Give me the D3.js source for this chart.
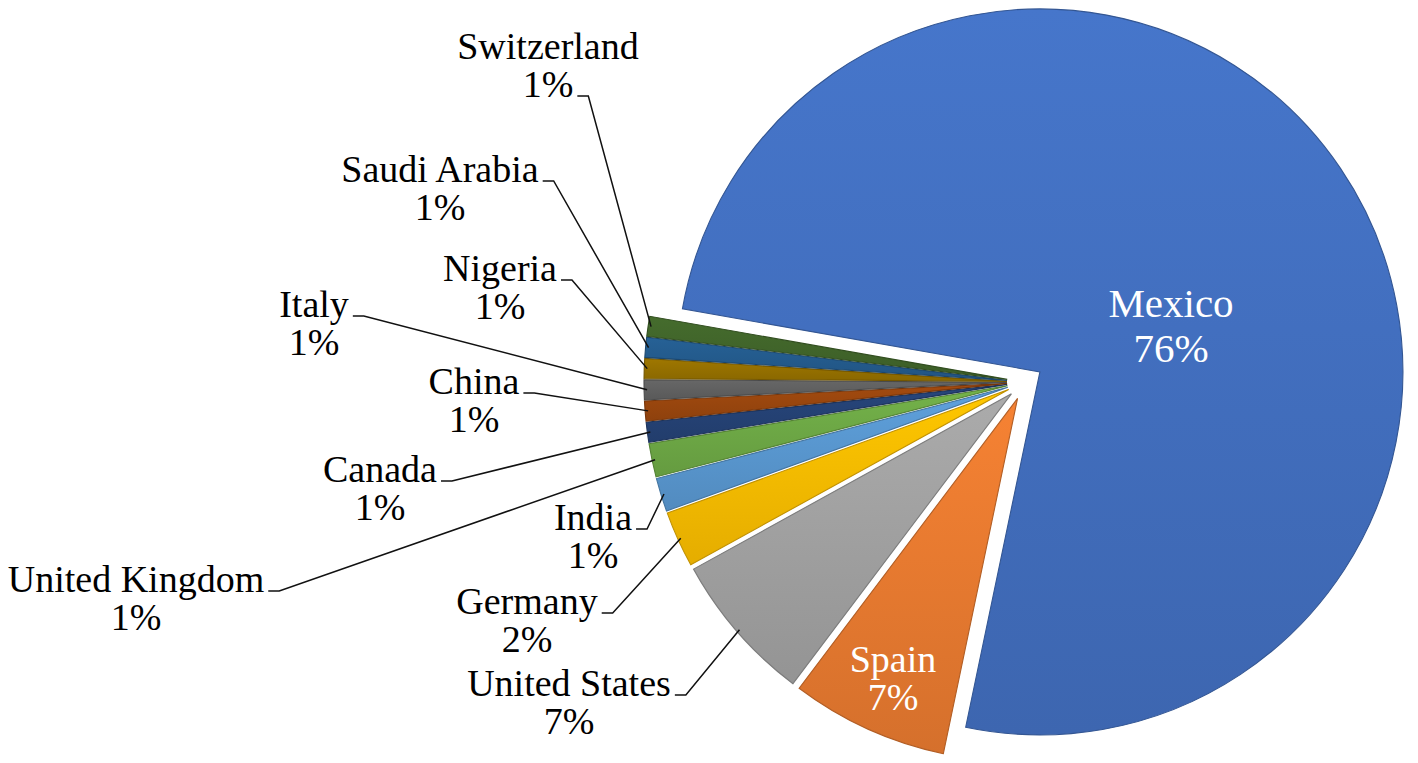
<!DOCTYPE html>
<html>
<head>
<meta charset="utf-8">
<script src="https://cdn.jsdelivr.net/npm/d3@7"></script>
<style>
  body { margin: 0; background: #fff; }
  svg { display: block; }
  text { font-family: "Liberation Serif", "Times New Roman", serif; }
</style>
</head>
<body>
<svg id="chart" width="1418" height="763"></svg>
<script>
// values (share of total, %)
var countries = ["Mexico", "Spain", "United States", "Germany", "India", "United Kingdom",
                 "Canada", "China", "Italy", "Nigeria", "Saudi Arabia", "Switzerland"];
var shares = [75.5, 7.0, 6.7, 2.49, 1.49, 1.49, 0.89, 0.89, 0.89, 0.89, 0.89, 0.88];
var colors = ["#4472C4", "#ED7D31", "#A5A5A5", "#FFC000", "#5B9BD5", "#70AD47",
              "#264478", "#9E480E", "#636363", "#997300", "#255E91", "#43682B"];

// label layout: text centre x, first baseline y, which line carries the leader tick
var labelX =    [1171, 893, 569, 527, 593, 136, 380, 474, 314, 500, 440, 548];
var labelY =    [ 317, 672, 696, 614, 530, 592, 482, 394, 317, 281, 182,  59];
var tickLine =  [  -1,  -1,   0,   0,   0,   0,   0,   0,   0,   0,   0,   1];

var width = 1418, height = 763;
var cx = 1025, cy = 382, radius = 363, explode = 18;
var startDeg = 280;
var lineH = 38;

var svg = d3.select("#chart");

var data = countries.map(function(c, i) {
  return {name: c, value: shares[i], color: colors[i], i: i};
});

var a0 = startDeg * Math.PI / 180;
var pie = d3.pie().sort(null).value(function(d) { return d.value; })
  .startAngle(a0).endAngle(a0 + 2 * Math.PI);
var arc = d3.arc().innerRadius(0).outerRadius(radius);
var rim = d3.arc().innerRadius(radius - 3).outerRadius(radius - 3);

var arcs = pie(data);

function shift(d) {
  var a = (d.startAngle + d.endAngle) / 2;
  return [Math.sin(a) * explode, -Math.cos(a) * explode];
}

// gradient per slice, lighter at the top
var defs = svg.append("defs");
arcs.forEach(function(d) {
  var g = defs.append("linearGradient")
    .attr("id", "grad" + d.data.i)
    .attr("x1", 0).attr("y1", 0).attr("x2", 0).attr("y2", 1);
  g.append("stop").attr("offset", "0%").attr("stop-color", d3.color(d.data.color).brighter(0.1));
  g.append("stop").attr("offset", "100%").attr("stop-color", d3.color(d.data.color).darker(0.3));
});

var pieG = svg.append("g").attr("transform", "translate(" + cx + "," + cy + ")");

pieG.selectAll("path.slice")
  .data(arcs)
  .join("path")
    .attr("class", "slice")
    .attr("transform", function(d) { return "translate(" + shift(d) + ")"; })
    .attr("d", arc)
    .attr("fill", function(d) { return "url(#grad" + d.data.i + ")"; })
    .attr("stroke", function(d) { return d3.color(d.data.color).darker(0.8); })
    .attr("stroke-width", 1.1);

// labels
var labG = svg.append("g");

arcs.forEach(function(d) {
  var i = d.data.i;
  var inside = tickLine[i] < 0;
  var t = labG.append("text")
    .attr("x", labelX[i])
    .attr("y", labelY[i])
    .attr("text-anchor", "middle")
    .attr("fill", inside ? "#fff" : "#000")
    .style("font-size", i === 0 ? "41px" : "38px");
  var lines = [d.data.name, Math.round(d.data.value) + "%"];
  var spans = lines.map(function(s, k) {
    return t.append("tspan")
      .attr("x", labelX[i])
      .attr("y", labelY[i] + k * (i === 0 ? 45 : lineH))
      .text(s);
  });

  if (!inside) {
    var k = tickLine[i];
    var w = spans[k].node().getComputedTextLength();
    var tx = labelX[i] + w / 2 + 4;
    var ty = labelY[i] + k * lineH - 1;
    var s = shift(d);
    var p = rim.centroid(d);
    var ex = cx + s[0] + p[0], ey = cy + s[1] + p[1];
    labG.append("path")
      .attr("d", "M" + tx + "," + ty + "H" + (tx + 11) + "L" + ex + "," + ey)
      .attr("fill", "none")
      .attr("stroke", "#111")
      .attr("stroke-width", 1.5);
  }
});
</script>
</body>
</html>
